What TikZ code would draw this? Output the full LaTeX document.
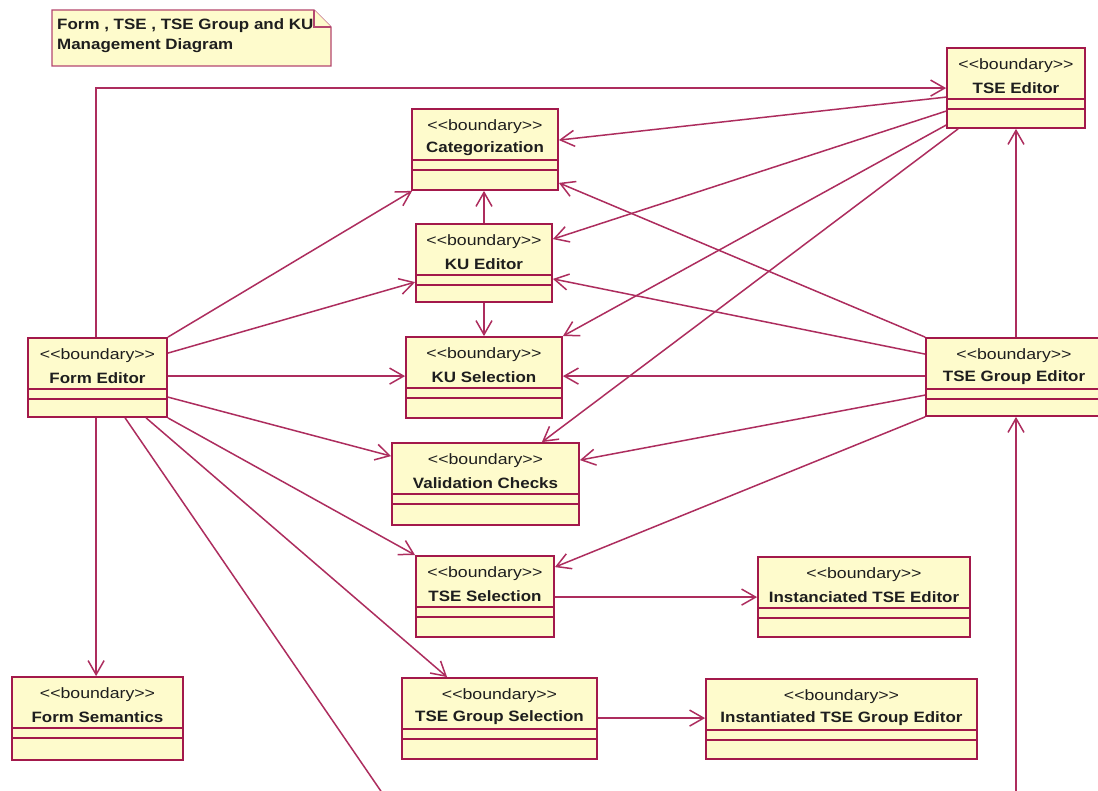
\documentclass[tikz,border=0pt]{standalone}
\usepackage{fontspec}
\setmainfont{Liberation Sans}
\newfontfamily\stfont[FakeStretch=1.18]{Liberation Sans}
\newfontfamily\nmfont[FakeStretch=1.13]{Liberation Sans}
\usetikzlibrary{arrows.meta,fit}

\definecolor{umlfill}{HTML}{FEFBCC}
\definecolor{umlline}{HTML}{A3194B}
\definecolor{umlwire}{HTML}{AD2D5E}
\definecolor{umltext}{HTML}{1E1E1E}

\tikzset{
  bbox/.style={draw=umlline, fill=umlfill, line width=1.8pt, inner sep=0pt, rectangle},
  comp/.style={draw=umlline, line width=1.4pt},
  stt/.style={font=\stfont\fontsize{15}{18}\selectfont, text=umltext, inner sep=0pt},
  ttl/.style={font=\nmfont\bfseries\fontsize{15}{18}\selectfont, text=umltext, inner sep=0pt},
  notebox/.style={draw=umlline!80, fill=umlfill, line width=1.2pt, line join=miter},
  notetxt/.style={font=\nmfont\bfseries\fontsize{15}{20}\selectfont, text=umltext, inner sep=0pt},
  dep/.style={draw=umlwire, line width=1.5pt, -{Straight Barb[length=14pt,width=16pt]}},
  plain/.style={draw=umlwire, line width=1.5pt},
}

% stereotype label, with kerns so the font mapping keeps the angle brackets
\newcommand\bndst{<\kern0pt<boundary>\kern0pt>}

% boundary class: name, corner, opposite corner, title
\newcommand\bnd[4]{%
  \node[bbox, fit={#2 #3}] (#1) {};
  \draw[comp] ([yshift=-52pt]#1.north west) -- ([yshift=-52pt]#1.north east);
  \draw[comp] ([yshift=-62pt]#1.north west) -- ([yshift=-62pt]#1.north east);
  \node[stt] (#1-st) at ([yshift=-19pt]#1.north) {\bndst};
  \node[ttl] (#1-nm) at ([yshift=-41pt]#1.north) {#4};
}

\begin{document}
\begin{tikzpicture}[x=1pt, y=-1pt]
  \fill[white] (0,0) rectangle (1098,791);
  \useasboundingbox (0,0) rectangle (1098,791);

  % note
  \draw[notebox] (52,10) -- (314,10) -- (331,27) -- (331,66) -- (52,66) -- cycle;
  \draw[notebox] (314,10) -- (314,27) -- (331,27);
  \node[notetxt, anchor=west, align=left] (note) at (57,36)
    {Form , TSE , TSE Group and KU\\Management Diagram};

  % classes
  \bnd{tsee}{(947,48)}{(1085,128)}{TSE Editor}
  \bnd{cat}{(412,109)}{(558,190)}{Categorization}
  \bnd{kue}{(416,224)}{(552,302)}{KU Editor}
  \bnd{fe}{(28,338)}{(167,417)}{Form Editor}
  \bnd{kus}{(406,337)}{(562,418)}{KU Selection}
  \bnd{tge}{(926,338)}{(1102,416)}{TSE Group Editor}
  \bnd{vc}{(392,443)}{(579,525)}{Validation Checks}
  \bnd{tses}{(416,556)}{(554,637)}{TSE Selection}
  \bnd{itse}{(758,557)}{(970,637)}{Instanciated TSE Editor}
  \bnd{fs}{(12,677)}{(183,760)}{Form Semantics}
  \bnd{tgs}{(402,678)}{(597,759)}{TSE Group Selection}
  \bnd{itge}{(706,679)}{(977,759)}{Instantiated TSE Group Editor}

  \coordinate (offb) at (387,800);
  \coordinate (inb) at (1016,800);

  % Form Editor dependencies
  \draw[dep] ([xshift=69pt]fe.north west) |- ([yshift=-41pt]tsee.north west);
  \draw[dep] (fe.north east) -- ([xshift=1pt]cat.south west);
  \draw[dep] ([yshift=-16pt]fe.north east) -- ([yshift=-59pt]kue.north west);
  \draw[dep] ([yshift=-39pt]fe.north east) -- ([yshift=-40pt]kus.north west);
  \draw[dep] ([yshift=-60pt]fe.north east) -- ([yshift=-14pt]vc.north west);
  \draw[dep] (fe.south east) -- (tses.north west);
  \draw[dep] ([xshift=119pt]fe.south west) -- ([xshift=46pt]tgs.north west);
  \draw[plain] ([xshift=98pt]fe.south west) -- (offb);
  \draw[dep] ([xshift=69pt]fe.south west) -- ([xshift=85pt]fs.north west);

  % KU Editor dependencies
  \draw[dep] (kue.north) -- (kue.north |- cat.south);
  \draw[dep] (kue.south) -- (kue.south |- kus.north);

  % TSE Editor dependencies
  \draw[dep] ([yshift=-50pt]tsee.north west) -- ([yshift=-32pt]cat.north east);
  \draw[dep] ([yshift=-64pt]tsee.north west) -- ([yshift=-16pt]kue.north east);
  \draw[dep] ([yshift=-78pt]tsee.north west) -- (kus.north east);
  \draw[dep] ([xshift=12pt]tsee.south west) -- ([xshift=-38pt]vc.north east);

  % TSE Group Editor dependencies
  \draw[dep] (tsee.south |- tge.north) -- (tsee.south);
  \draw[dep] (tge.north west) -- ([yshift=8pt]cat.south east);
  \draw[dep] ([yshift=-17pt]tge.north west) -- ([yshift=24pt]kue.south east);
  \draw[dep] ([yshift=-39pt]tge.north west) -- ([yshift=-40pt]kus.north east);
  \draw[dep] ([yshift=-58pt]tge.north west) -- ([yshift=-18pt]vc.north east);
  \draw[dep] (tge.south west) -- ([yshift=-12pt]tses.north east);
  \draw[dep] (inb) -- (inb |- tge.south);

  % instantiation
  \draw[dep] ([yshift=-42pt]tses.north east) -- ([yshift=-41pt]itse.north west);
  \draw[dep] ([yshift=-41pt]tgs.north east) -- ([yshift=-40pt]itge.north west);
\end{tikzpicture}
\end{document}
